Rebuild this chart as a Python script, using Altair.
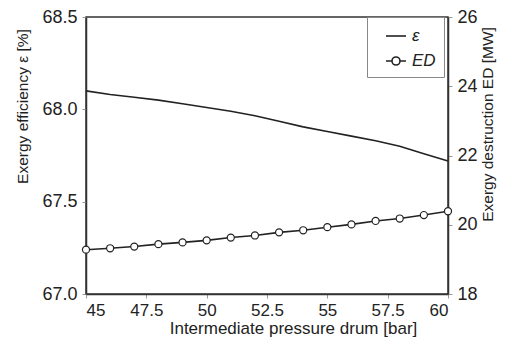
import altair as alt
import pandas as pd

pressure = [45, 46, 47, 48, 49, 50, 51, 52, 53, 54, 55, 56, 57, 58, 59, 60]
efficiency = [68.10, 68.08, 68.065, 68.05, 68.03, 68.01, 67.99, 67.965,
              67.935, 67.905, 67.88, 67.855, 67.83, 67.80, 67.76, 67.72]
destruction = [19.28, 19.32, 19.37, 19.44, 19.49, 19.55, 19.63, 19.69,
               19.78, 19.84, 19.93, 20.01, 20.11, 20.18, 20.28, 20.39]
series_names = ["ε", "ED"]
x_ticks = [45, 47.5, 50, 52.5, 55, 57.5, 60]
left_ticks = [67.0, 67.5, 68.0, 68.5]
right_ticks = [18, 20, 22, 24, 26]

df = pd.DataFrame({"pressure": pressure, "efficiency": efficiency, "destruction": destruction})
legend_df = pd.DataFrame({"series": series_names,
                          "pressure": [pressure[0]] * 2,
                          "efficiency": [efficiency[0]] * 2})

FONT = "Liberation Sans"
INK = "#222222"

x_enc = alt.X("pressure:Q",
              scale=alt.Scale(domain=[45, 60], nice=False, zero=False),
              axis=alt.Axis(values=x_ticks,
                            labelExpr="datum.value % 1 == 0 ? format(datum.value, 'd') : format(datum.value, '.1f')",
                            title="Intermediate pressure drum [bar]",
                            labelFontSize=17, labelPadding=4,
                            titleFontSize=17, titleX=207, titleY=26,
                            titleAlign="center", titleBaseline="top"))

y_left = alt.Y("efficiency:Q",
               scale=alt.Scale(domain=[67, 68.5], nice=False, zero=False),
               axis=alt.Axis(values=left_ticks,
                             labelExpr="format(datum.value, '.1f')", orient="left",
                             title="Exergy efficiency ε [%]",
                             labelPadding=5, titleAngle=270, titleX=-56, titleY=89,
                             titleAlign="center", titleBaseline="bottom"))

y_right = alt.Y("destruction:Q",
                scale=alt.Scale(domain=[18, 26], nice=False, zero=False),
                axis=alt.Axis(values=right_ticks,
                              labelExpr="format(datum.value, 'd')", orient="right",
                              title="Exergy destruction ED [MW]",
                              labelPadding=5, titleAngle=270, titleX=32, titleY=107,
                              titleAlign="center", titleBaseline="top"))

eps_line = alt.Chart(df).mark_line(color=INK, strokeWidth=1.6).encode(x=x_enc, y=y_left)

ed_sym = ("M-1,0H-0.4M0.4,0H1M-0.4,0A0.4,0.4,0,1,1,0.4,0"
          "A0.4,0.4,0,1,1,-0.4,0Z")
legend_pts = alt.Chart(legend_df).mark_point(opacity=0, size=0).encode(
    x=x_enc, y=y_left,
    shape=alt.Shape("series:N",
                    scale=alt.Scale(domain=series_names, range=["M-1,0H1", ed_sym]),
                    legend=alt.Legend(title=None, orient="none", legendX=281, legendY=0,
                                      direction="vertical", symbolSize=400,
                                      symbolStrokeWidth=1.6, symbolStrokeColor=INK,
                                      symbolFillColor="white", symbolOpacity=1,
                                      symbolOffset=10, labelFont=FONT, labelFontSize=17,
                                      labelFontStyle="italic", labelColor=INK,
                                      labelOffset=5, rowPadding=6, padding=8,
                                      strokeColor="#888888", fillColor="white",
                                      labelExpr="datum.label + '\u00a0\u00a0'")))

ed_line = alt.Chart(df).mark_line(
    color=INK, strokeWidth=1.6,
    point=alt.OverlayMarkDef(filled=True, fill="white", stroke=INK,
                             strokeWidth=1.2, size=50, opacity=1)
).encode(x=x_enc, y=y_right)

left = alt.layer(eps_line, legend_pts)
chart = alt.layer(left, ed_line).resolve_scale(y="independent").properties(
    width=362, height=277,
    autosize=alt.AutoSizeParams(type="none"),
    padding={"left": 78, "top": 9, "right": 50, "bottom": 44},
    background="white",
).configure_axis(
    grid=False, labelFont=FONT, labelFontSize=18, labelColor=INK,
    titleFont=FONT, titleFontSize=15.5, titleFontWeight="normal", titleColor=INK,
    domainColor="#333333", domainWidth=1.5, tickColor="#999999", tickSize=4,
).configure_view(stroke="#333333", strokeWidth=1.5)

chart.save("out.html", embed_options={"renderer": "svg", "actions": False})
